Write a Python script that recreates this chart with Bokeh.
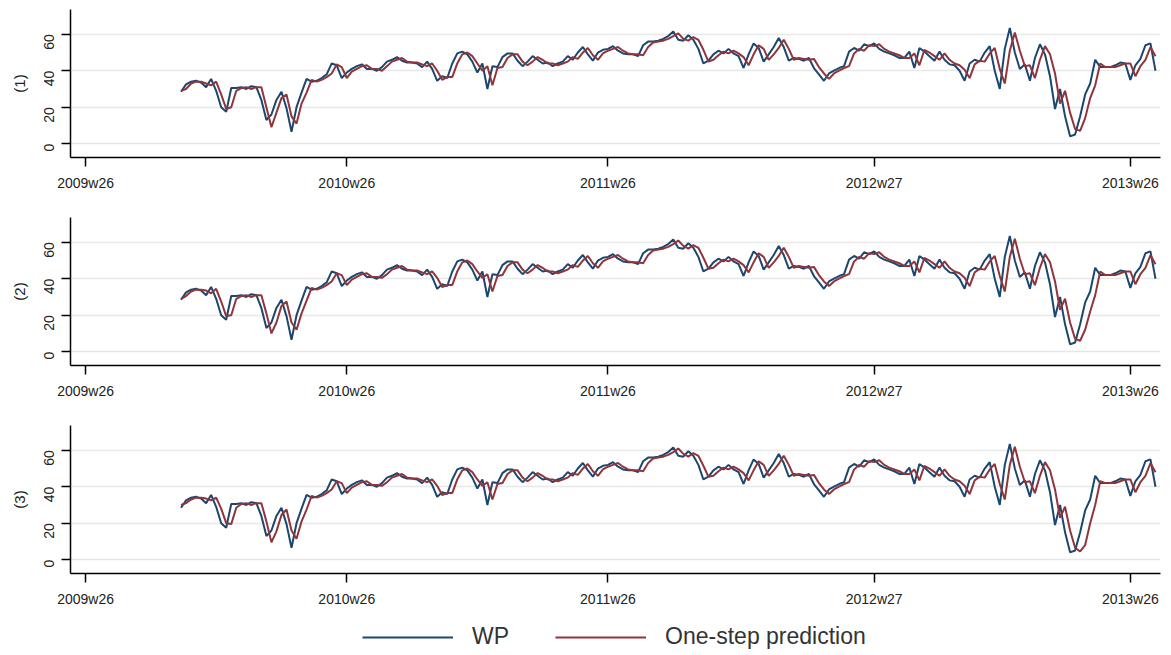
import math
from bokeh.plotting import figure
from bokeh.models import Range1d, FixedTicker, Legend, LegendItem, ColumnDataSource
from bokeh.layouts import column
from bokeh.embed import file_html
from bokeh.resources import INLINE

# Stata weekly dates (weeks since 1960w1); first point 2009w45
week_start = 2592
tick_weeks = [2573, 2625, 2677, 2730, 2781]
tick_labels = ["2009w26", "2010w26", "2011w26", "2012w27", "2013w26"]
y_ticks = [0, 20, 40, 60]
panel_labels = ["(1)", "(2)", "(3)"]
series_names = ["WP", "One-step prediction"]

wp = [
    28.5, 32.5, 34, 34.5, 33.5, 31, 35.5, 29, 20, 17.5,
    30.5, 30.5, 31, 30, 31.5, 31, 24, 13, 16, 24,
    28.5, 19.5, 6.5, 20, 28, 35.5, 34, 34.5, 36, 38,
    44, 43, 36, 39, 41, 42.5, 43.5, 41, 41, 40,
    42, 45, 46, 47.5, 45.5, 44.5, 44.5, 44, 42, 45,
    41, 34.5, 37, 36, 44, 49.5, 50.5, 49, 45, 39,
    44, 30, 42.5, 42, 47.5, 49.5, 49.5, 45.5, 42.5, 45,
    48, 46, 44, 44.5, 42.5, 44, 45, 48, 46, 50,
    53, 49, 45.5, 50, 51.5, 52, 53.5, 51, 49.5, 49,
    49, 48, 54, 56, 56, 56.5, 57.5, 59, 61.5, 57,
    56.5, 59.5, 57, 52, 44, 45.5, 49, 51, 49.5, 52,
    49.5, 48, 41.5, 49, 55, 52.5, 45, 49, 53, 58,
    53, 45.5, 47, 46.5, 45.5, 47, 41.5, 38, 34.5, 38.5,
    40, 41.5, 42.5, 50.5, 52.5, 51, 54.5, 53.5, 55, 52,
    50.5, 49.5, 48.5, 47, 47, 50.5, 41.5, 52.5, 50.5, 48,
    45.5, 50.5, 46, 43.5, 43, 40, 34.5, 44, 46, 45,
    50, 53.5, 40, 30, 52, 63.5, 50, 41, 43.5, 34.5,
    47, 54.5, 49, 37, 19, 30, 15, 4, 5, 15,
    27, 33, 46, 42, 42, 42, 43, 44.5, 44, 35,
    43, 46.5, 54, 55, 40,
]

pred1 = [
    29, 30, 33, 34, 34, 33, 32, 34, 27, 19,
    20, 29, 30.5, 31, 30, 31, 31, 20, 9, 17,
    25, 27, 15, 11, 22, 28, 35, 34, 35, 36.5,
    38.5, 43.5, 42, 36, 39.5, 41, 42.5, 43, 41, 41,
    40, 42.5, 45, 46, 47, 45, 44.5, 44.5, 43.5, 42.5,
    44, 40, 35, 36.5, 36.5, 44, 49, 50, 48, 44,
    40, 42.5, 32, 41.5, 42, 47, 49, 49, 45, 43,
    45, 47.5, 46, 44, 44, 43, 44, 45, 47.5, 46.5,
    50, 52.5, 48.5, 46, 49.5, 51, 52, 53, 51, 49.5,
    49, 49, 48.5, 53, 55.5, 56, 56.5, 57.5, 59, 60.5,
    57.5, 56.5, 58.5, 57, 51.5, 45, 46, 48.5, 50.5, 49.5,
    51, 49.5, 47.5, 43, 49, 54, 52, 46, 49, 52.5,
    57, 52, 46, 47, 46.5, 46, 46.5, 42, 38.5, 35.5,
    38.5, 40, 41.5, 42.5, 49.5, 52, 51, 54, 53.5, 54.5,
    52, 50.5, 49.5, 48.5, 47, 47, 49.5, 43, 51.5, 50,
    48, 46, 49.5, 46, 44, 43, 40.5, 36, 43.5, 45.5,
    45, 49.5, 52.5, 41, 33, 51, 61, 51, 42.5, 43,
    36, 46, 53.5, 49, 38.5, 22, 29, 17, 8, 7,
    14, 25, 32, 44, 42, 42, 42, 43, 44, 44,
    37, 42.5, 46, 53, 48,
]

pred2 = [
    29, 30.5, 33, 34, 34, 33.5, 32, 34.5, 27.5, 19.5,
    20, 29, 30.5, 31, 30, 31, 31, 21, 10, 16,
    25, 27.5, 16, 12, 21, 28, 35, 34, 35, 36.5,
    38.5, 43, 42, 36.5, 39.5, 41, 42.5, 43, 41, 41,
    40.5, 42.5, 45, 46, 47, 45, 44.5, 44.5, 43.5, 42.5,
    44, 40.5, 35.5, 36.5, 36.5, 44, 49, 50, 48, 44,
    40.5, 42.5, 33, 41.5, 42, 47, 49, 49, 45, 43,
    45, 47.5, 46, 44, 44, 43, 44, 45, 47.5, 46.5,
    50, 52.5, 48.5, 46, 49.5, 51, 52, 53, 51, 49.5,
    49, 49, 48.5, 53, 55.5, 56, 56.5, 57.5, 59, 61,
    58, 56.5, 58.5, 57, 51.5, 45.5, 46, 48.5, 50.5, 49.5,
    51, 49.5, 47.5, 43.5, 49, 54, 52, 46, 49, 52.5,
    57, 52, 46, 47, 46.5, 46, 46.5, 42, 38.5, 36,
    38.5, 40, 41.5, 42.5, 49.5, 52, 51, 54, 53.5, 54.5,
    52, 50.5, 49.5, 48.5, 47, 47, 49.5, 43.5, 51.5, 50,
    48, 46, 49.5, 46, 44, 43, 40.5, 36, 43.5, 45.5,
    45, 49.5, 52.5, 41.5, 33, 52, 62, 51, 42.5, 43,
    36.5, 46, 53.5, 49, 38.5, 23, 29, 16, 7, 6,
    12, 22, 31, 44, 42, 42, 42, 43, 44, 44,
    37, 42.5, 46, 53, 48,
]

pred3 = [
    30, 31, 33, 34, 34, 33.5, 32.5, 34, 28, 20,
    19.5, 28.5, 30.5, 31, 30, 31, 31, 21, 9.5, 15.5,
    24.5, 27.5, 16, 11.5, 21, 27.5, 35, 34, 35, 36.5,
    38.5, 43, 42, 36.5, 39.5, 41, 42.5, 43, 41, 41,
    40.5, 42.5, 45, 46, 47, 45, 44.5, 44.5, 43.5, 42.5,
    44, 40.5, 35.5, 36.5, 36.5, 44, 49, 50, 48, 44,
    40.5, 42.5, 33, 41.5, 42, 47, 49, 49, 45, 43,
    45, 47.5, 46, 44, 44, 43, 44, 45, 47.5, 46.5,
    50, 52.5, 48.5, 46, 49.5, 51, 52, 53, 51, 49.5,
    49, 49, 48.5, 53, 55.5, 56, 56.5, 57.5, 59, 61,
    58, 56.5, 58.5, 57, 51.5, 45.5, 46, 48.5, 50.5, 49.5,
    51, 49.5, 47.5, 43.5, 49, 54, 52, 46, 49, 52.5,
    57, 52, 46, 47, 46.5, 46, 46.5, 42, 38.5, 36,
    38.5, 40, 41.5, 42.5, 49.5, 52, 51, 54, 53.5, 54.5,
    52, 50.5, 49.5, 48.5, 47, 47, 49.5, 43.5, 51.5, 50,
    48, 46, 49.5, 46, 44, 43, 40.5, 36, 43.5, 45.5,
    45, 49.5, 52.5, 41.5, 33, 52, 62, 51, 42.5, 43,
    36.5, 46, 53.5, 49, 38.5, 23, 29, 16, 6.5, 4.5,
    8, 20, 30, 43, 42, 42, 42, 43, 44, 44,
    37, 42.5, 46, 53, 48,
]

preds = [pred1, pred2, pred3]
weeks = list(range(week_start, week_start + len(wp)))

WP_COLOR = "#1a476f"
PRED_COLOR = "#90353b"
FONT = "Liberation Sans"
LINE_W = 2.0

figs = []
for i, (lab, pr) in enumerate(zip(panel_labels, preds)):
    last = i == 2
    p = figure(frame_width=1090, frame_height=148,
               x_range=Range1d(2570, 2787), y_range=Range1d(-7.6, 73.6),
               output_backend="svg", toolbar_location=None,
               min_border_left=70, min_border_right=10,
               min_border_top=9 if i == 0 else 1,
               min_border_bottom=40 if last else 59)
    p.outline_line_color = None
    p.background_fill_color = "white"
    p.xgrid.visible = False
    p.ygrid.grid_line_color = "#e8e8e8"
    p.ygrid.grid_line_width = 1.5
    p.ygrid.ticker = FixedTicker(ticks=y_ticks)

    p.xaxis.ticker = FixedTicker(ticks=tick_weeks)
    p.xaxis.major_label_overrides = {w: l for w, l in zip(tick_weeks, tick_labels)}
    p.yaxis.ticker = FixedTicker(ticks=y_ticks)
    p.yaxis.major_label_orientation = math.pi / 2
    p.yaxis.axis_label = lab
    for ax in (p.xaxis, p.yaxis):
        ax.axis_line_color = "black"
        ax.axis_line_width = 1.5
        ax.major_tick_line_color = "black"
        ax.major_tick_line_width = 1.5
        ax.major_tick_out = 9
        ax.major_tick_in = 0
        ax.minor_tick_out = 0
        ax.minor_tick_in = 0
        ax.major_label_text_font = FONT
        ax.major_label_text_font_size = "14px"
        ax.major_label_text_color = "#222222"
        ax.axis_label_text_font = FONT
        ax.axis_label_text_font_size = "15px"
        ax.axis_label_text_font_style = "normal"
        ax.axis_label_text_color = "#222222"
    p.xaxis.major_label_standoff = 8
    p.yaxis.major_label_standoff = 12
    p.yaxis.axis_label_standoff = 9

    src = ColumnDataSource(dict(week=weeks, wp=wp, pred=pr))
    p.line("week", "wp", source=src, line_color=WP_COLOR, line_width=LINE_W)
    p.line("week", "pred", source=src, line_color=PRED_COLOR, line_width=LINE_W)
    figs.append(p)

# legend strip below the panels (its series lie outside its ranges, only the legend shows)
lg = figure(width=1170, height=40, x_range=Range1d(0, 1), y_range=Range1d(0, 1),
            output_backend="svg", toolbar_location=None,
            min_border_left=0, min_border_right=0, min_border_top=0, min_border_bottom=0,
            x_axis_type=None, y_axis_type=None)
lg.outline_line_color = None
lg.xgrid.visible = False
lg.ygrid.visible = False
lsrc = ColumnDataSource(dict(week=weeks, wp=wp, pred=pred1))
e1 = lg.line("week", "wp", source=lsrc, line_color=WP_COLOR, line_width=LINE_W)
e2 = lg.line("week", "pred", source=lsrc, line_color=PRED_COLOR, line_width=LINE_W)
legend = Legend(items=[LegendItem(label=series_names[0], renderers=[e1]),
                       LegendItem(label=series_names[1], renderers=[e2])],
                orientation="horizontal", location=(292, 3),
                glyph_width=91, glyph_height=20, label_standoff=19,
                spacing=46, padding=0, margin=0,
                border_line_alpha=0, background_fill_alpha=0,
                label_text_font=FONT, label_text_font_size="23px",
                label_text_color="#333333")
lg.add_layout(legend, "center")
figs.append(lg)

layout = column(*figs, spacing=0)
open("out.html", "w").write(file_html(layout, INLINE))
